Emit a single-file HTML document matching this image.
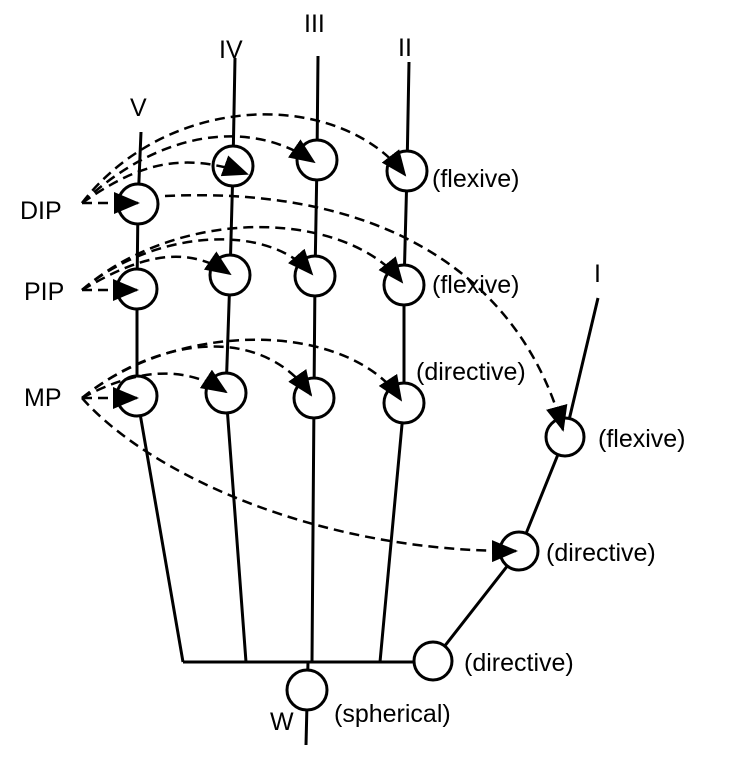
<!DOCTYPE html>
<html><head><meta charset="utf-8"><style>
html,body{margin:0;padding:0;background:#fff}
svg{display:block}
text{font-family:"Liberation Sans","DejaVu Sans",sans-serif;font-size:25px;fill:#000}
</style></head><body>
<svg width="736" height="771" viewBox="0 0 736 771">
<defs>
<marker id="ah" markerUnits="userSpaceOnUse" markerWidth="26" markerHeight="22" refX="24" refY="11" orient="auto">
<path d="M0,0 L26,11 L0,22 z" fill="#000"/>
</marker>
</defs>
<g stroke="#000" stroke-width="3" fill="none">
<polyline points="141,132 138,204 137,289 137,396 183,662"/>
<polyline points="235,58 233,166 230,275 226,393 246,662"/>
<polyline points="318,56 317,160 315,276 314,398 312,662"/>
<polyline points="409,62 407,171 404,285 404,403 380,662"/>
<polyline points="598,298 565,437 519,551 433,661"/>
<line x1="183" y1="662" x2="415" y2="662"/>
<line x1="308" y1="662" x2="306" y2="745"/>
</g>
<g stroke="#000" stroke-width="3" fill="#fff">
<circle cx="138" cy="204" r="20"/>
<circle cx="137" cy="289" r="20"/>
<circle cx="137" cy="396" r="20"/>
<circle cx="233" cy="166" r="20"/>
<circle cx="230" cy="275" r="20"/>
<circle cx="226" cy="393" r="20"/>
<circle cx="317" cy="160" r="20"/>
<circle cx="315" cy="276" r="20"/>
<circle cx="314" cy="398" r="20"/>
<circle cx="407" cy="171" r="20"/>
<circle cx="404" cy="285" r="20"/>
<circle cx="404" cy="403" r="20"/>
<circle cx="565" cy="437" r="19"/>
<circle cx="519" cy="551" r="19"/>
<circle cx="433" cy="661" r="19"/>
<circle cx="307" cy="690" r="20"/>
</g>
<g stroke="#000" stroke-width="2.5" fill="none" stroke-dasharray="10,6" marker-end="url(#ah)">
<path d="M82,203 L138,203"/>
<path d="M82,203 C130,170 175,148 247,174"/>
<path d="M82,203 C160,130 250,118 314,162"/>
<path d="M82,203 C170,90 340,90 405,175"/>
<path d="M165,196 C400,185 525,290 563,430"/>
<path d="M82,290 L137,290"/>
<path d="M82,290 C130,262 180,240 230,274"/>
<path d="M82,290 C150,232 265,220 312,274"/>
<path d="M82,290 C180,205 345,210 402,282"/>
<path d="M82,398 L137,398"/>
<path d="M82,398 C130,372 180,362 226,392"/>
<path d="M82,398 C160,335 262,325 311,395"/>
<path d="M82,398 C180,318 350,322 401,400"/>
<path d="M82,398 C150,475 320,552 516,551"/>
</g>
<g>
<text x="130" y="116">V</text>
<text x="219" y="58">IV</text>
<text x="304" y="32">III</text>
<text x="398" y="56">II</text>
<text x="594" y="282">I</text>
<text x="20" y="219">DIP</text>
<text x="24" y="300">PIP</text>
<text x="24" y="406">MP</text>
<text x="432" y="187">(flexive)</text>
<text x="432" y="293">(flexive)</text>
<text x="416" y="380">(directive)</text>
<text x="598" y="447">(flexive)</text>
<text x="546" y="561">(directive)</text>
<text x="464" y="671">(directive)</text>
<text x="270" y="730">W</text>
<text x="334" y="722">(spherical)</text>
</g>
</svg>
</body></html>
